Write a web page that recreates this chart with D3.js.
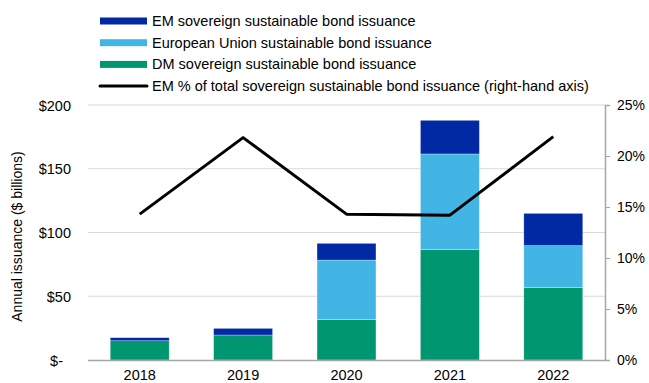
<!DOCTYPE html>
<html>
<head>
<meta charset="utf-8">
<script src="https://cdn.jsdelivr.net/npm/d3@7"></script>
<style>
  body { margin: 0; background: #fff; }
  text { font-family: Arial, "Liberation Sans", sans-serif; fill: #000; }
</style>
</head>
<body>
<div class="canvas"></div>
<script>
// Data
const years = ['2018', '2019', '2020', '2021', '2022'];
const dmIssuance = [15.1, 19.6, 31.6, 86.5, 56.7];
const euIssuance = [0, 0, 46.8, 75.1, 33.0];
const emIssuance = [2.4, 5.2, 13.1, 26.4, 25.3];
const emShare = [14.3, 21.8, 14.3, 14.2, 21.9];
const leftTicks = [0, 50, 100, 150, 200];
const rightTicks = [0, 5, 10, 15, 20, 25];

const seriesNames = [
    'EM sovereign sustainable bond issuance',
    'European Union sustainable bond issuance',
    'DM sovereign sustainable bond issuance',
    'EM % of total sovereign sustainable bond issuance (right-hand axis)'
];
const colors = { dm: '#00966f', eu: '#42b5e5', em: '#0029a3' };

const svgWidth = 649;
const svgHeight = 383;
const margin = { top: 105, right: 44, bottom: 23, left: 88 };
const graphWidth = svgWidth - margin.left - margin.right;
const graphHeight = svgHeight - margin.top - margin.bottom;

const svg = d3.select('.canvas')
    .append('svg')
        .attr('width', svgWidth)
        .attr('height', svgHeight);

const g = svg.append('g')
    .attr('transform', `translate(${margin.left}, ${margin.top})`);

// Scales
const x = d3.scaleBand().domain(years).range([0, graphWidth]).paddingInner(0.43).paddingOuter(0.215);
const y = d3.scaleLinear().domain([0, 200]).range([graphHeight, 0]);
const y2 = d3.scaleLinear().domain([0, 25]).range([graphHeight, 0]);

// Gridlines
g.append('g')
    .selectAll('line')
    .data(leftTicks.filter(d => d > 0))
    .join('line')
        .attr('x1', 0)
        .attr('x2', graphWidth)
        .attr('y1', d => y(d))
        .attr('y2', d => y(d))
        .attr('stroke', '#d9d9d9')
        .attr('stroke-width', 1);

// Stacked bars
const table = years.map((yr, i) => ({ year: yr, dm: dmIssuance[i], eu: euIssuance[i], em: emIssuance[i] }));
const stack = d3.stack().keys(['dm', 'eu', 'em'])(table);

g.append('g')
    .selectAll('g')
    .data(stack)
    .join('g')
        .attr('fill', d => colors[d.key])
    .selectAll('rect')
    .data(d => d.filter(p => p[1] - p[0] > 0))
    .join('rect')
        .attr('x', d => x(d.data.year))
        .attr('width', x.bandwidth())
        .attr('y', d => y(d[1]))
        .attr('height', d => y(d[0]) - y(d[1]))
        .attr('stroke', 'rgba(255,255,255,0.5)')
        .attr('stroke-width', 0.6);

// Baseline
g.append('line')
    .attr('x1', 0)
    .attr('x2', graphWidth)
    .attr('y1', graphHeight + 0.5)
    .attr('y2', graphHeight + 0.5)
    .attr('stroke', '#a6a6a6')
    .attr('stroke-width', 1.5);

// EM share line
const line = d3.line()
    .x((d, i) => x(years[i]) + x.bandwidth() / 2)
    .y(d => y2(d));

g.append('path')
    .datum(emShare)
    .attr('fill', 'none')
    .attr('stroke', '#000')
    .attr('stroke-width', 3)
    .attr('stroke-linejoin', 'round')
    .attr('d', line);

// Left axis
const yAxis = d3.axisLeft(y)
    .tickValues(leftTicks)
    .tickSize(0)
    .tickPadding(17)
    .tickFormat(d => d === 0 ? '$-' : `$${d}`);

const yAxisGroup = g.append('g').call(yAxis);
yAxisGroup.select('.domain').remove();
yAxisGroup.selectAll('text')
    .attr('font-size', 14.5)
    .attr('dy', '0.35em')
    .attr('dx', d => d === 0 ? -8 : 0);

// Right axis
const yAxis2 = d3.axisRight(y2)
    .tickValues(rightTicks)
    .tickSize(5)
    .tickPadding(7)
    .tickFormat(d => `${d}%`);

const yAxis2Group = g.append('g')
    .attr('transform', `translate(${graphWidth}, 0)`)
    .call(yAxis2);
yAxis2Group.select('.domain').attr('stroke', '#a6a6a6').attr('stroke-width', 1.5);
yAxis2Group.selectAll('.tick line').attr('stroke', '#a6a6a6');
yAxis2Group.selectAll('text').attr('font-size', 14).attr('dy', '0.35em');

// Bottom axis
const xAxis = d3.axisBottom(x).tickSize(0).tickPadding(10);
const xAxisGroup = g.append('g')
    .attr('transform', `translate(0, ${graphHeight})`)
    .call(xAxis);
xAxisGroup.select('.domain').remove();
xAxisGroup.selectAll('text').attr('font-size', 14.5);

// Axis title
svg.append('text')
    .attr('transform', `translate(22, ${margin.top + graphHeight / 2 + 4}) rotate(-90)`)
    .attr('text-anchor', 'middle')
    .attr('font-size', 14)
    .text('Annual issuance ($ billions)');

// Legend
const legendRows = [
    { name: seriesNames[0], color: colors.em, type: 'rect' },
    { name: seriesNames[1], color: colors.eu, type: 'rect' },
    { name: seriesNames[2], color: colors.dm, type: 'rect' },
    { name: seriesNames[3], color: '#000', type: 'line' }
];

const legend = svg.append('g')
    .selectAll('g')
    .data(legendRows)
    .join('g')
        .attr('transform', (d, i) => `translate(100, ${21 + i * 21.7})`);

legend.filter(d => d.type === 'rect')
    .append('rect')
        .attr('x', 0)
        .attr('y', -3.5)
        .attr('width', 47)
        .attr('height', 7)
        .attr('fill', d => d.color);

legend.filter(d => d.type === 'line')
    .append('line')
        .attr('x1', 0)
        .attr('x2', 47)
        .attr('stroke', '#000')
        .attr('stroke-width', 3)
        .attr('stroke-linecap', 'round');

legend.append('text')
    .attr('x', 52)
    .attr('dy', '0.35em')
    .attr('font-size', 14.5)
    .text(d => d.name);
</script>
</body>
</html>
